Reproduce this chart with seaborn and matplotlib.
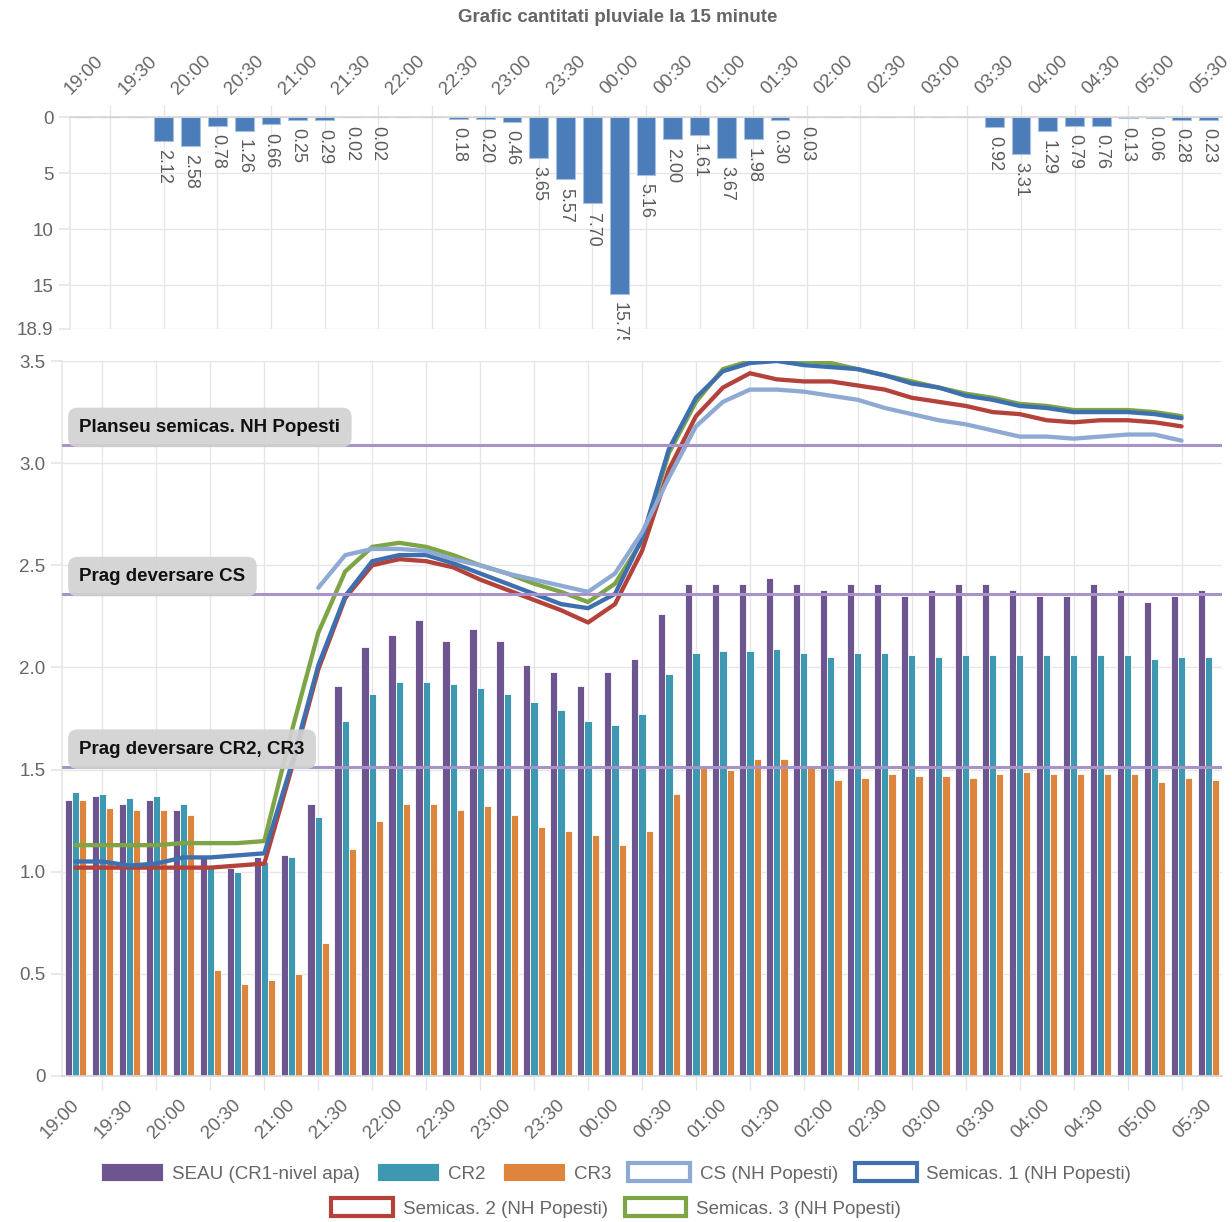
import numpy as np
import pandas as pd
import matplotlib
matplotlib.use("Agg")
import matplotlib.pyplot as plt
import seaborn as sns
from matplotlib.patches import Patch
from matplotlib.transforms import ScaledTranslation, Bbox, TransformedBbox, blended_transform_factory

# ---------------- data ----------------
times = ["19:00", "19:15", "19:30", "19:45", "20:00", "20:15", "20:30", "20:45",
         "21:00", "21:15", "21:30", "21:45", "22:00", "22:15", "22:30", "22:45",
         "23:00", "23:15", "23:30", "23:45", "00:00", "00:15", "00:30", "00:45",
         "01:00", "01:15", "01:30", "01:45", "02:00", "02:15", "02:30", "02:45",
         "03:00", "03:15", "03:30", "03:45", "04:00", "04:15", "04:30", "04:45",
         "05:00", "05:15", "05:30"]

rain = [0, 0, 0, 2.12, 2.58, 0.78, 1.26, 0.66, 0.25, 0.29, 0.02, 0.02, 0.01, 0,
        0.18, 0.20, 0.46, 3.65, 5.57, 7.70, 15.75, 5.16, 2.00, 1.61, 3.67, 1.98,
        0.30, 0.03, 0.01, 0.01, 0, 0, 0, 0, 0.92, 3.31, 1.29, 0.79, 0.76, 0.13,
        0.06, 0.28, 0.23]

seau = [1.35, 1.37, 1.33, 1.35, 1.30, 1.07, 1.02, 1.07, 1.08, 1.33, 1.91, 2.10,
        2.16, 2.23, 2.13, 2.19, 2.13, 2.01, 1.98, 1.91, 1.98, 2.04, 2.26, 2.41,
        2.41, 2.41, 2.44, 2.41, 2.38, 2.41, 2.41, 2.35, 2.38, 2.41, 2.41, 2.38,
        2.35, 2.35, 2.41, 2.38, 2.32, 2.35, 2.38]
cr2 = [1.39, 1.38, 1.36, 1.37, 1.33, 1.03, 1.00, 1.05, 1.07, 1.27, 1.74, 1.87,
       1.93, 1.93, 1.92, 1.90, 1.87, 1.83, 1.79, 1.74, 1.72, 1.77, 1.97, 2.07,
       2.08, 2.08, 2.09, 2.07, 2.05, 2.07, 2.07, 2.06, 2.05, 2.06, 2.06, 2.06,
       2.06, 2.06, 2.06, 2.06, 2.04, 2.05, 2.05]
cr3 = [1.35, 1.31, 1.30, 1.30, 1.28, 0.52, 0.45, 0.47, 0.50, 0.65, 1.11, 1.25,
       1.33, 1.33, 1.30, 1.32, 1.28, 1.22, 1.20, 1.18, 1.13, 1.20, 1.38, 1.51,
       1.50, 1.55, 1.55, 1.51, 1.45, 1.46, 1.48, 1.47, 1.47, 1.46, 1.48, 1.49,
       1.48, 1.48, 1.48, 1.48, 1.44, 1.46, 1.45]

nan = np.nan
cs = [nan, nan, nan, nan, nan, nan, nan, nan, nan, 2.39, 2.55, 2.58, 2.58, 2.57,
      2.53, 2.50, 2.46, 2.43, 2.40, 2.37, 2.46, 2.66, 2.93, 3.18, 3.30, 3.36,
      3.36, 3.35, 3.33, 3.31, 3.27, 3.24, 3.21, 3.19, 3.16, 3.13, 3.13, 3.12,
      3.13, 3.14, 3.14, 3.11, nan]
semi1 = [1.05, 1.05, 1.03, 1.04, 1.07, 1.07, 1.08, 1.09, 1.52, 2.01, 2.35, 2.52,
         2.55, 2.55, 2.51, 2.46, 2.41, 2.36, 2.31, 2.29, 2.36, 2.63, 3.07, 3.32,
         3.45, 3.49, 3.50, 3.48, 3.47, 3.46, 3.43, 3.39, 3.37, 3.33, 3.31, 3.28,
         3.27, 3.25, 3.25, 3.25, 3.24, 3.22, nan]
semi2 = [1.02, 1.02, 1.02, 1.02, 1.02, 1.02, 1.03, 1.04, 1.50, 1.99, 2.34, 2.50,
         2.53, 2.52, 2.49, 2.43, 2.38, 2.33, 2.28, 2.22, 2.31, 2.57, 2.97, 3.23,
         3.37, 3.44, 3.41, 3.40, 3.40, 3.38, 3.36, 3.32, 3.30, 3.28, 3.25, 3.24,
         3.21, 3.20, 3.21, 3.21, 3.20, 3.18, nan]
semi3 = [1.13, 1.13, 1.13, 1.13, 1.14, 1.14, 1.14, 1.15, 1.68, 2.17, 2.47, 2.59,
         2.61, 2.59, 2.55, 2.50, 2.46, 2.41, 2.37, 2.32, 2.41, 2.62, 3.05, 3.30,
         3.46, 3.50, 3.51, 3.50, 3.49, 3.46, 3.43, 3.40, 3.37, 3.34, 3.32, 3.29,
         3.28, 3.26, 3.26, 3.26, 3.25, 3.23, nan]

bar_names = ["SEAU (CR1-nivel apa)", "CR2", "CR3"]
line_names = ["CS (NH Popesti)", "Semicas. 1 (NH Popesti)",
              "Semicas. 2 (NH Popesti)", "Semicas. 3 (NH Popesti)"]
ref_values = [3.09, 2.36, 1.515]
ref_labels = ["Planseu semicas. NH Popesti", "Prag deversare CS", "Prag deversare CR2, CR3"]

y_top_ticks = [0, 5, 10, 15, 18.9]
y_top_labels = ["0", "5", "10", "15", "18.9"]
y_ticks = [0, 0.5, 1.0, 1.5, 2.0, 2.5, 3.0, 3.5]
y_labels = ["0", "0.5", "1.0", "1.5", "2.0", "2.5", "3.0", "3.5"]
title = "Grafic cantitati pluviale la 15 minute"

# ---------------- style ----------------
bar_colors = ["#6d558f", "#3f98b2", "#de853d"]
line_colors = ["#8eaad4", "#3e6fae", "#b5413b", "#7ea545"]
rain_color = "#4a7dba"
ref_color = "#a893c8"
grid_c = "#e6e6e6"
txt_c = "#666666"
FS = 13.5

sns.set_theme(style="white")
plt.rcParams["font.family"] = ["Liberation Sans", "DejaVu Sans"]

W, H = 1232, 1222
fig = plt.figure(figsize=(W / 100, H / 100), dpi=100)
fig.patch.set_facecolor("white")


def rect(l, t, r, b):
    return [l / W, 1 - b / H, (r - l) / W, (b - t) / H]


ax_top = fig.add_axes(rect(70, 117, 1222, 329))
ax = fig.add_axes(rect(62, 361, 1222, 1076))

n = len(times)
pos = np.arange(n)

# ---------------- top: rain ----------------
sns.barplot(x=times, y=rain, order=times, ax=ax_top, color=rain_color,
            saturation=1, width=0.7, edgecolor="#a7c0df", linewidth=0.8)
ax_top.set_xlim(-0.5, n - 0.5)
ax_top.set_ylim(18.9, 0)
ax_top.set_yticks(y_top_ticks)
ax_top.set_yticklabels(y_top_labels)
ax_top.set_xlabel("")
ax_top.set_ylabel("")

clip = TransformedBbox(Bbox([[0, -0.05], [1, 1.0]]), ax_top.transAxes)
for i, v in enumerate(rain):
    if v >= 0.02:
        t = ax_top.annotate(f"{v:.2f}", xy=(i, v), xytext=(0, -6),
                            textcoords="offset points", rotation=270,
                            ha="center", va="top", fontsize=13, color="#5a5a5a",
                            annotation_clip=False)
        t.set_clip_box(clip)
        t.set_clip_on(True)

ax_top.xaxis.tick_top()
ax_top.set_xticks(pos[::2])
ax_top.set_xticklabels(times[::2])
ax_top.set_xticks(pos[1::2], minor=True)
ax_top.tick_params(axis="x", which="major", length=0, pad=14, labelsize=FS,
                   labelcolor=txt_c, top=True, labeltop=True, bottom=False, labelbottom=False)
ax_top.tick_params(axis="x", which="minor", length=9, color=grid_c, width=1,
                   top=True, bottom=False)
ax_top.tick_params(axis="y", length=8, color=grid_c, labelsize=FS, labelcolor=txt_c, pad=4, left=True)
for lab in ax_top.get_xticklabels():
    lab.set_rotation(45)
    lab.set_rotation_mode("anchor")
    lab.set_ha("left")
    lab.set_va("bottom")
    lab.set_transform(lab.get_transform() + ScaledTranslation(-0.10, 0, fig.dpi_scale_trans))
ax_top.grid(axis="x", which="minor", color=grid_c, lw=1)
ax_top.grid(axis="y", which="major", color=grid_c, lw=1)
ax_top.set_axisbelow(True)
for s in ["right", "bottom"]:
    ax_top.spines[s].set_visible(False)
ax_top.spines["top"].set_color("#d6d6d6")
ax_top.spines["left"].set_color(grid_c)

# ---------------- bottom: levels ----------------
df_bars = pd.DataFrame({
    "time": times * 3,
    "value": seau + cr2 + cr3,
    "series": sum([[nm] * n for nm in bar_names], []),
})
sns.barplot(data=df_bars, x="time", y="value", hue="series", order=times,
            hue_order=bar_names, palette=bar_colors, saturation=1, width=0.8,
            edgecolor="white", linewidth=0.6, ax=ax, legend=False, zorder=2)

df_lines = pd.DataFrame({
    "pos": list(pos) * 4,
    "value": cs + semi1 + semi2 + semi3,
    "series": sum([[nm] * n for nm in line_names], []),
})
draw_order = line_names[::-1]
sns.lineplot(data=df_lines, x="pos", y="value", hue="series", hue_order=draw_order,
             palette=dict(zip(line_names, line_colors)), lw=3.1, estimator=None,
             ax=ax, legend=False, zorder=4)

ax.set_xlim(-0.5, n - 0.5)
ax.set_ylim(0, 3.5)
ax.set_yticks(y_ticks)
ax.set_yticklabels(y_labels)
ax.set_xlabel("")
ax.set_ylabel("")

ax.set_xticks(pos[::2])
ax.set_xticklabels(times[::2])
ax.set_xticks(pos[1::2], minor=True)
ax.tick_params(axis="x", which="major", length=0, pad=15, labelsize=FS, labelcolor=txt_c, bottom=True)
ax.tick_params(axis="x", which="minor", length=10, color=grid_c, width=1, bottom=True)
ax.tick_params(axis="y", length=8, color=grid_c, labelsize=FS, labelcolor=txt_c, pad=4, left=True)
for lab in ax.get_xticklabels():
    lab.set_rotation(45)
    lab.set_rotation_mode("anchor")
    lab.set_ha("right")
    lab.set_va("top")
    lab.set_transform(lab.get_transform() + ScaledTranslation(-0.05, 0, fig.dpi_scale_trans))
ax.grid(axis="x", which="minor", color=grid_c, lw=1, zorder=0)
ax.grid(axis="y", which="major", color=grid_c, lw=1, zorder=0)
ax.set_axisbelow(True)
for s in ["right", "top"]:
    ax.spines[s].set_visible(False)
ax.spines["bottom"].set_color("#d6d6d6")
ax.spines["left"].set_color(grid_c)

trans = blended_transform_factory(ax.transAxes, ax.transData)
for v, lbl in zip(ref_values, ref_labels):
    ax.axhline(v, color=ref_color, lw=2.2, zorder=5)
    ax.annotate(lbl, xy=(0, v), xycoords=trans, xytext=(12.5, 12.5),
                textcoords="offset points", ha="left", va="center",
                fontsize=FS, fontweight="bold", color="#111111", zorder=6,
                bbox=dict(boxstyle="round,pad=0.6,rounding_size=0.5",
                          fc="#d2d2d2", ec="none", alpha=0.92))

# ---------------- title & legend ----------------
fig.text(618 / W, 1 - 17 / H, title, ha="center", va="center", fontsize=FS,
         fontweight="bold", color=txt_c)

handles = [Patch(facecolor=c, edgecolor="white", linewidth=0.6, label=nm)
           for nm, c in zip(bar_names, bar_colors)]
handles += [Patch(facecolor="white", edgecolor=c, linewidth=3, label=nm)
            for nm, c in zip(line_names, line_colors)]
leg_kw = dict(loc="center", frameon=False, fontsize=FS, handlelength=3.3,
              handleheight=1.05, handletextpad=0.5, columnspacing=0.9,
              labelcolor=txt_c, borderaxespad=0)
fig.legend(handles=handles[:5], ncol=5, bbox_to_anchor=(0.5, 1 - 1173 / H), **leg_kw)
fig.legend(handles=handles[5:], ncol=2, bbox_to_anchor=(0.5, 1 - 1208 / H), **leg_kw)

fig.savefig("out.png", dpi=100, facecolor="white")
